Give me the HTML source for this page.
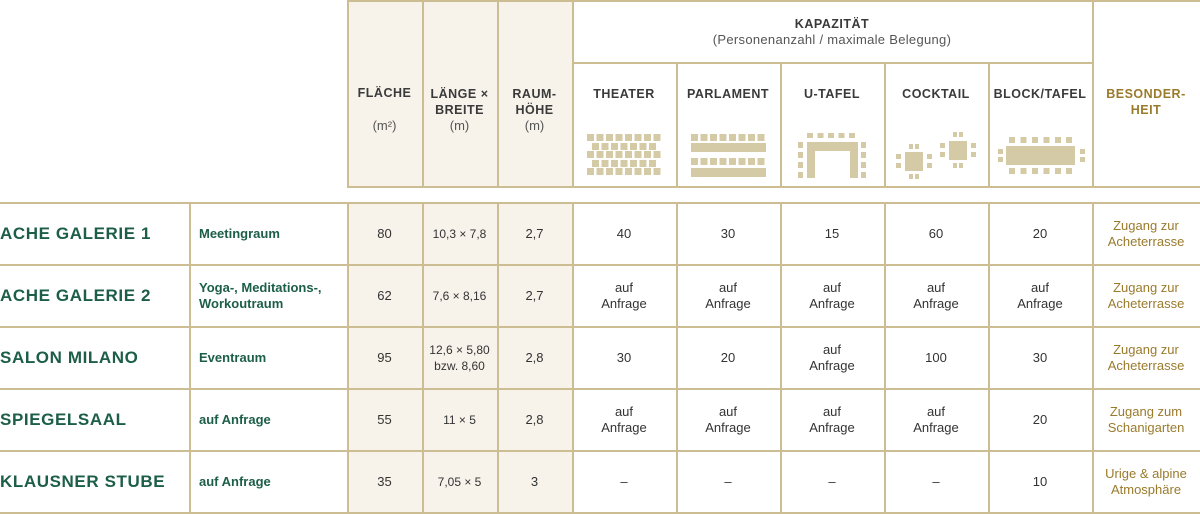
<!DOCTYPE html>
<html><head><meta charset="utf-8"><style>
body{margin:0;width:1200px;height:514px;background:#fff;position:relative;overflow:hidden;font-family:"Liberation Sans",sans-serif}
.c{position:absolute;box-sizing:border-box;display:flex;align-items:center;justify-content:center;text-align:center;font-size:13px;color:#333;line-height:16px}
.sh{background:#f7f3eb}
.l{position:absolute;background:#cdbd92}
.h{font-weight:bold;font-size:12.5px;letter-spacing:0.5px;color:#3a3a3a}
.g{color:#1c5e47;font-weight:bold}
.gd{color:#9a7b2c}
</style></head><body>
<!-- header shaded -->
<div class="c sh" style="left:347px;top:0;width:225px;height:187px"></div>
<div class="c sh" style="left:347px;top:202px;width:225px;height:311px"></div>
<!-- header lines -->
<div class="l" style="left:347px;top:0;width:853px;height:1.5px"></div>
<div class="l" style="left:347px;top:186px;width:853px;height:1.5px"></div>
<div class="l" style="left:572px;top:62px;width:520px;height:1.5px"></div>
<div class="l" style="left:347px;top:0;width:1.5px;height:187px"></div>
<div class="l" style="left:422px;top:0;width:1.5px;height:187px"></div>
<div class="l" style="left:497px;top:0;width:1.5px;height:187px"></div>
<div class="l" style="left:572px;top:0;width:1.5px;height:187px"></div>
<div class="l" style="left:1092px;top:0;width:1.5px;height:187px"></div>
<div class="l" style="left:676px;top:62px;width:1.5px;height:125px"></div>
<div class="l" style="left:780px;top:62px;width:1.5px;height:125px"></div>
<div class="l" style="left:884px;top:62px;width:1.5px;height:125px"></div>
<div class="l" style="left:988px;top:62px;width:1.5px;height:125px"></div>
<!-- header text -->
<div class="c h" style="left:347px;top:85px;width:75px;height:20px;display:block">FLÄCHE</div>
<div class="c" style="left:347px;top:118px;width:75px;display:block;color:#555">(m²)</div>
<div class="c h" style="left:422px;top:86px;width:75px;display:block">LÄNGE ×<br>BREITE</div>
<div class="c" style="left:422px;top:118px;width:75px;display:block;color:#555">(m)</div>
<div class="c h" style="left:497px;top:86px;width:75px;display:block">RAUM-<br>HÖHE</div>
<div class="c" style="left:497px;top:118px;width:75px;display:block;color:#555">(m)</div>
<div class="c h" style="left:572px;top:16px;width:520px;display:block">KAPAZITÄT</div>
<div class="c" style="left:572px;top:32px;width:520px;display:block;color:#555;letter-spacing:0.3px">(Personenanzahl / maximale Belegung)</div>
<div class="c h" style="left:572px;top:86px;width:104px;display:block">THEATER</div>
<div class="c h" style="left:676px;top:86px;width:104px;display:block">PARLAMENT</div>
<div class="c h" style="left:780px;top:86px;width:104px;display:block">U-TAFEL</div>
<div class="c h" style="left:884px;top:86px;width:104px;display:block">COCKTAIL</div>
<div class="c h" style="left:988px;top:86px;width:104px;display:block">BLOCK/TAFEL</div>
<div class="c h" style="left:1092px;top:86px;width:108px;display:block;color:#9a7b2c">BESONDER-<br>HEIT</div>
<svg style="position:absolute;left:0;top:0" width="1200" height="190">
<g fill="#d4caa6">
<!-- theater -->
<g id="r8"><rect x="587" y="134" width="7" height="7"/><rect x="596.5" y="134" width="7" height="7"/><rect x="606" y="134" width="7" height="7"/><rect x="615.5" y="134" width="7" height="7"/><rect x="625" y="134" width="7" height="7"/><rect x="634.5" y="134" width="7" height="7"/><rect x="644" y="134" width="7" height="7"/><rect x="653.5" y="134" width="7" height="7"/></g>
<use href="#r8" y="17"/><use href="#r8" y="34"/>
<g id="r7"><rect x="592" y="143" width="7" height="7"/><rect x="601.5" y="143" width="7" height="7"/><rect x="611" y="143" width="7" height="7"/><rect x="620.5" y="143" width="7" height="7"/><rect x="630" y="143" width="7" height="7"/><rect x="639.5" y="143" width="7" height="7"/><rect x="649" y="143" width="7" height="7"/></g>
<use href="#r7" y="17"/>
<!-- parlament -->
<use href="#r8" x="104"/><use href="#r8" x="104" y="24"/>
<rect x="691" y="143" width="75" height="9"/><rect x="691" y="168" width="75" height="9"/>
<!-- u-tafel -->
<rect x="807" y="133" width="6" height="5"/><rect x="817.5" y="133" width="6" height="5"/><rect x="828" y="133" width="6" height="5"/><rect x="838.5" y="133" width="6" height="5"/><rect x="849" y="133" width="6" height="5"/>
<rect x="807" y="142" width="51" height="9"/><rect x="807" y="142" width="8" height="36"/><rect x="850" y="142" width="8" height="36"/>
<rect x="798" y="142" width="5" height="6"/><rect x="798" y="152" width="5" height="6"/><rect x="798" y="162" width="5" height="6"/><rect x="798" y="172" width="5" height="6"/>
<rect x="861" y="142" width="5" height="6"/><rect x="861" y="152" width="5" height="6"/><rect x="861" y="162" width="5" height="6"/><rect x="861" y="172" width="5" height="6"/>
<!-- cocktail -->
<rect x="905" y="152" width="18" height="19"/><rect x="909" y="144" width="4" height="5"/><rect x="915" y="144" width="4" height="5"/><rect x="909" y="174" width="4" height="5"/><rect x="915" y="174" width="4" height="5"/><rect x="896" y="154" width="5" height="5"/><rect x="896" y="163" width="5" height="5"/><rect x="927" y="154" width="5" height="5"/><rect x="927" y="163" width="5" height="5"/>
<rect x="949" y="141" width="18" height="19"/><rect x="953" y="132" width="4" height="5"/><rect x="959" y="132" width="4" height="5"/><rect x="953" y="163" width="4" height="5"/><rect x="959" y="163" width="4" height="5"/><rect x="940" y="143" width="5" height="5"/><rect x="940" y="152" width="5" height="5"/><rect x="971" y="143" width="5" height="5"/><rect x="971" y="152" width="5" height="5"/>
<!-- block -->
<rect x="1006" y="146" width="69" height="19"/>
<g id="bs"><rect x="1009" y="137" width="6" height="6"/><rect x="1020.5" y="137" width="6" height="6"/><rect x="1032" y="137" width="6" height="6"/><rect x="1043.5" y="137" width="6" height="6"/><rect x="1055" y="137" width="6" height="6"/><rect x="1066" y="137" width="6" height="6"/></g>
<use href="#bs" y="31"/>
<rect x="998" y="149" width="5" height="5"/><rect x="998" y="157" width="5" height="5"/><rect x="1080" y="149" width="5" height="5"/><rect x="1080" y="157" width="5" height="5"/>
</g></svg>
<!-- body lines -->
<div class="l" style="left:0;top:202px;width:1200px;height:1.5px"></div>
<div class="l" style="left:0;top:264px;width:1200px;height:1.5px"></div>
<div class="l" style="left:0;top:326px;width:1200px;height:1.5px"></div>
<div class="l" style="left:0;top:388px;width:1200px;height:1.5px"></div>
<div class="l" style="left:0;top:450px;width:1200px;height:1.5px"></div>
<div class="l" style="left:0;top:512px;width:1200px;height:1.5px"></div>
<div class="l" style="left:189px;top:202px;width:1.5px;height:312px"></div>
<div class="l" style="left:347px;top:202px;width:1.5px;height:312px"></div>
<div class="l" style="left:422px;top:202px;width:1.5px;height:312px"></div>
<div class="l" style="left:497px;top:202px;width:1.5px;height:312px"></div>
<div class="l" style="left:572px;top:202px;width:1.5px;height:312px"></div>
<div class="l" style="left:676px;top:202px;width:1.5px;height:312px"></div>
<div class="l" style="left:780px;top:202px;width:1.5px;height:312px"></div>
<div class="l" style="left:884px;top:202px;width:1.5px;height:312px"></div>
<div class="l" style="left:988px;top:202px;width:1.5px;height:312px"></div>
<div class="l" style="left:1092px;top:202px;width:1.5px;height:312px"></div>
<!-- rows -->
<div id="rows"></div>
<div class="c g" style="left:0;top:203px;width:189px;height:62px;justify-content:flex-start;font-size:17px;letter-spacing:0.6px">ACHE GALERIE 1</div>
<div class="c g" style="left:0;top:265px;width:189px;height:62px;justify-content:flex-start;font-size:17px;letter-spacing:0.6px">ACHE GALERIE 2</div>
<div class="c g" style="left:0;top:327px;width:189px;height:62px;justify-content:flex-start;font-size:17px;letter-spacing:0.6px">SALON MILANO</div>
<div class="c g" style="left:0;top:389px;width:189px;height:62px;justify-content:flex-start;font-size:17px;letter-spacing:0.6px">SPIEGELSAAL</div>
<div class="c g" style="left:0;top:451px;width:189px;height:62px;justify-content:flex-start;font-size:17px;letter-spacing:0.6px">KLAUSNER STUBE</div>
<div class="c g" style="left:199px;top:203px;width:148px;height:62px;justify-content:flex-start;text-align:left">Meetingraum</div>
<div class="c g" style="left:199px;top:265px;width:148px;height:62px;justify-content:flex-start;text-align:left">Yoga-, Meditations-,<br>Workoutraum</div>
<div class="c g" style="left:199px;top:327px;width:148px;height:62px;justify-content:flex-start;text-align:left">Eventraum</div>
<div class="c g" style="left:199px;top:389px;width:148px;height:62px;justify-content:flex-start;text-align:left">auf Anfrage</div>
<div class="c g" style="left:199px;top:451px;width:148px;height:62px;justify-content:flex-start;text-align:left">auf Anfrage</div>
<script>
var d=[["80","10,3 × 7,8","2,7","40","30","15","60","20","Zugang zur<br>Acheterrasse"],
["62","7,6 × 8,16","2,7","auf<br>Anfrage","auf<br>Anfrage","auf<br>Anfrage","auf<br>Anfrage","auf<br>Anfrage","Zugang zur<br>Acheterrasse"],
["95","12,6 × 5,80<br>bzw. 8,60","2,8","30","20","auf<br>Anfrage","100","30","Zugang zur<br>Acheterrasse"],
["55","11 × 5","2,8","auf<br>Anfrage","auf<br>Anfrage","auf<br>Anfrage","auf<br>Anfrage","20","Zugang zum<br>Schanigarten"],
["35","7,05 × 5","3","–","–","–","–","10","Urige &amp; alpine<br>Atmosphäre"]];
var xs=[347,422,497,572,676,780,884,988,1092,1200],h="";
d.forEach(function(r,i){r.forEach(function(t,j){h+='<div class="c'+(j==8?' gd':'')+'" style="left:'+xs[j]+'px;top:'+(203+62*i)+'px;width:'+(xs[j+1]-xs[j])+'px;height:62px'+(j==1?';font-size:12px':'')+'">'+t+'</div>';});});
document.getElementById("rows").innerHTML=h;
</script>
</body></html>
